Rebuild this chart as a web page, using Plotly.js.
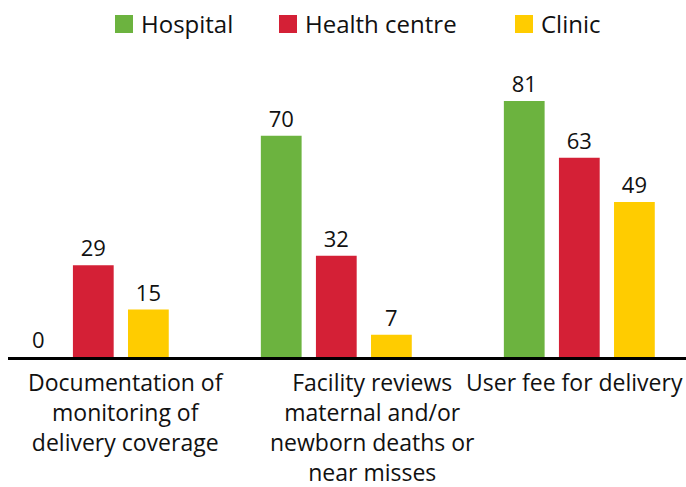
<!DOCTYPE html>
<html><head><meta charset="utf-8">
<script src="https://cdn.plot.ly/plotly-3.0.1.min.js"></script>
<style>html,body{margin:0;padding:0;background:#fff}#c{width:686px;height:487px}</style>
</head><body><div id="c"></div>
<script>
const categories = ["Documentation of<br>monitoring of<br>delivery coverage",
                    "Facility reviews<br>maternal and/or<br>newborn deaths or<br>near misses",
                    "User fee for delivery"];
const seriesNames = ["Hospital", "Health centre", "Clinic"];
const hospital = [0, 70, 81];
const healthCentre = [29, 32, 63];
const clinic = [15, 7, 49];
const colors = ["#6cb33f", "#d42036", "#ffcc00"];

const FONT = "'Open Sans', sans-serif";
const idx = [0, 1, 2];
const values = [hospital, healthCentre, clinic];
const traces = values.map((v, k) => ({
  type: "bar", x: idx, y: v, name: seriesNames[k],
  marker: {color: colors[k], line: {width: 0}},
  text: v.map(String), textposition: "outside", cliponaxis: false,
  textfont: {family: FONT, size: 22, color: "#111"},
  showlegend: false, hoverinfo: "skip"
}));

const labelShift = [33, 36, -5];
const annotations = categories.map((c, i) => ({
  xref: "x", yref: "paper", x: i, y: 0, xshift: labelShift[i], yshift: -7,
  xanchor: "center", yanchor: "top", showarrow: false, align: "center",
  text: c, font: {family: FONT, size: 23, color: "#111"}
}));
// legend
const legX = [115, 279, 515];
const shapes = [];
seriesNames.forEach((n, k) => {
  shapes.push({type: "rect", xref: "paper", yref: "paper",
    x0: (legX[k] - 8) / 678, x1: (legX[k] + 18 - 8) / 678,
    y0: (357 - 33) / 300, y1: (357 - 15) / 300,
    fillcolor: colors[k], line: {width: 0}});
  annotations.push({xref: "paper", yref: "paper", x: (legX[k] + 24 - 8) / 678, y: (357 - 24) / 300,
    xanchor: "left", yanchor: "middle", showarrow: false, text: n,
    font: {family: FONT, size: 24, color: "#111"}});
});

Plotly.newPlot("c", traces, {
  width: 686, height: 487,
  margin: {l: 8, r: 0, t: 57, b: 130, pad: 0},
  paper_bgcolor: "#fff", plot_bgcolor: "#fff",
  barmode: "group", bargap: 0.32, bargroupgap: 0.26,
  xaxis: {range: [-0.351, 2.439], showticklabels: false, ticks: "", showgrid: false,
          zeroline: false, showline: true, linecolor: "#000", linewidth: 3, fixedrange: true},
  yaxis: {range: [0, 94.9], visible: false, showgrid: false, zeroline: false},
  annotations: annotations, shapes: shapes, showlegend: false
}, {staticPlot: true});
</script></body></html>
